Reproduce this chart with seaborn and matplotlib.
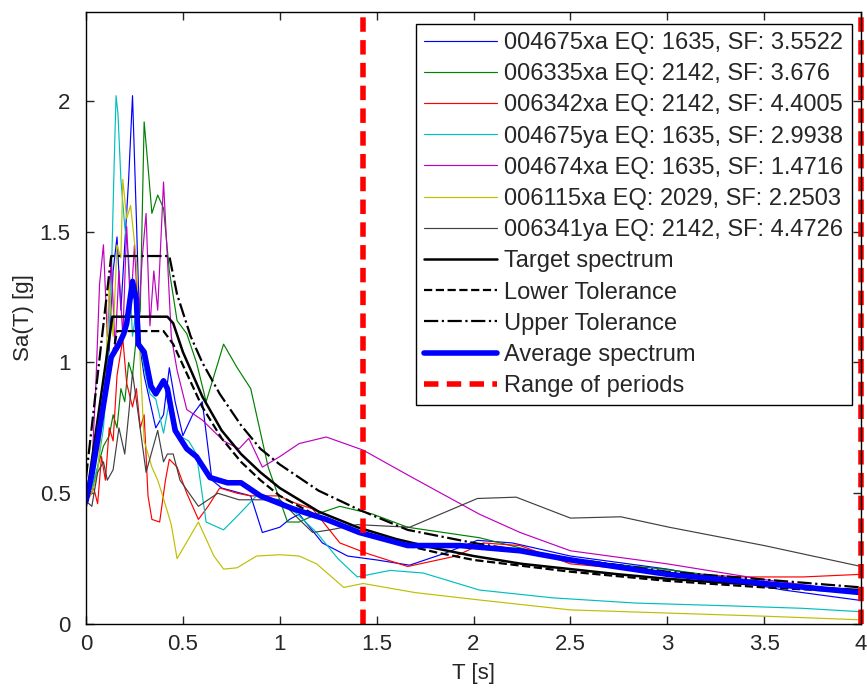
import matplotlib
matplotlib.use("Agg")
import matplotlib.pyplot as plt
import seaborn as sns

sns.set_style("ticks")
plt.rcParams['font.family'] = ['Liberation Sans', 'DejaVu Sans']
plt.rcParams['font.size'] = 16

# --- ground motion records (period T [s], spectral acceleration Sa [g]) ---
t_blue = [0, 0.03, 0.06, 0.08, 0.10, 0.12, 0.14, 0.16, 0.18, 0.20, 0.22, 0.24, 0.26, 0.28, 0.30, 0.33,
          0.36, 0.40, 0.43, 0.46, 0.50, 0.55, 0.60, 0.65, 0.70, 0.80, 0.85, 0.91, 1.0, 1.05, 1.1, 1.22,
          1.35, 1.5, 1.67, 1.85, 2.02, 2.2, 2.5, 2.8, 3.0, 3.3, 3.6, 4.0]
sa_blue = [0.47, 0.55, 0.68, 0.80, 0.95, 1.05, 1.35, 1.48, 1.20, 1.45, 1.70, 2.02, 1.55, 1.05, 0.95, 0.85,
           0.75, 0.80, 0.98, 0.85, 0.72, 0.80, 0.85, 0.55, 0.52, 0.50, 0.49, 0.35, 0.37, 0.40, 0.42, 0.31,
           0.26, 0.245, 0.225, 0.27, 0.32, 0.31, 0.26, 0.23, 0.21, 0.17, 0.13, 0.09]

t_green = [0, 0.03, 0.06, 0.09, 0.12, 0.14, 0.16, 0.18, 0.20, 0.22, 0.24, 0.26, 0.28, 0.30, 0.32, 0.34,
           0.37, 0.40, 0.43, 0.47, 0.52, 0.57, 0.62, 0.71, 0.78, 0.85, 0.94, 1.04, 1.1, 1.19, 1.31, 1.48,
           1.66, 2.03, 2.3, 2.5, 2.98, 3.5, 4.0]
sa_green = [0.47, 0.50, 0.60, 0.68, 0.72, 0.80, 0.75, 0.90, 0.85, 1.00, 0.95, 1.10, 1.20, 1.92, 1.75, 1.57,
            1.64, 1.59, 1.35, 1.16, 1.11, 1.00, 0.85, 1.07, 0.98, 0.90, 0.60, 0.39, 0.39, 0.42, 0.45, 0.42,
            0.37, 0.33, 0.28, 0.245, 0.21, 0.16, 0.12]

t_red = [0, 0.02, 0.04, 0.06, 0.08, 0.10, 0.12, 0.14, 0.16, 0.19, 0.21, 0.24, 0.26, 0.28, 0.30, 0.32,
         0.34, 0.38, 0.41, 0.43, 0.47, 0.52, 0.58, 0.63, 0.69, 0.78, 0.85, 1.0, 1.05, 1.17, 1.31, 1.45,
         1.66, 1.91, 2.05, 2.24, 2.5, 2.8, 3.1, 3.4, 3.7, 4.0]
sa_red = [0.47, 0.49, 0.52, 0.46, 0.64, 0.55, 0.75, 0.70, 0.95, 1.09, 0.92, 0.83, 0.90, 0.75, 0.80, 0.49,
          0.40, 0.39, 0.55, 0.63, 0.60, 0.50, 0.40, 0.45, 0.52, 0.50, 0.49, 0.49, 0.47, 0.44, 0.31, 0.27,
          0.22, 0.26, 0.31, 0.30, 0.23, 0.21, 0.19, 0.18, 0.18, 0.19]

t_cyan = [0, 0.03, 0.06, 0.09, 0.11, 0.13, 0.145, 0.155, 0.165, 0.18, 0.20, 0.22, 0.24, 0.26, 0.28, 0.30,
          0.33, 0.36, 0.40, 0.43, 0.48, 0.53, 0.57, 0.62, 0.71, 0.79, 0.88, 1.0, 1.09, 1.19, 1.30, 1.40,
          1.57, 1.74, 2.03, 2.41, 2.84, 3.3, 3.7, 4.0]
sa_cyan = [0.47, 0.52, 0.60, 0.75, 0.95, 1.30, 1.75, 2.02, 1.95, 1.70, 1.52, 1.40, 1.10, 1.20, 1.07, 0.98,
           0.88, 0.86, 0.73, 0.85, 0.72, 0.70, 0.65, 0.39, 0.36, 0.42, 0.49, 0.475, 0.42, 0.35, 0.25, 0.18,
           0.205, 0.195, 0.13, 0.10, 0.08, 0.07, 0.06, 0.047]

t_magenta = [0, 0.03, 0.05, 0.07, 0.09, 0.11, 0.13, 0.15, 0.17, 0.19, 0.21, 0.23, 0.25, 0.27, 0.29, 0.31,
             0.33, 0.35, 0.37, 0.40, 0.42, 0.44, 0.47, 0.52, 0.60, 0.71, 0.79, 0.84, 0.91, 1.0, 1.1, 1.24,
             1.43, 1.66, 2.03, 2.24, 2.5, 3.0, 3.5, 4.0]
sa_magenta = [0.47, 0.60, 0.90, 1.30, 1.45, 1.10, 1.40, 1.05, 1.35, 1.10, 1.52, 1.20, 1.45, 1.15, 1.40, 1.57,
              1.14, 1.35, 1.20, 1.69, 1.40, 1.10, 0.97, 0.82, 0.78, 0.70, 0.67, 0.71, 0.60, 0.64, 0.69, 0.715,
              0.665, 0.57, 0.42, 0.35, 0.28, 0.23, 0.17, 0.12]

t_yellow = [0, 0.03, 0.06, 0.08, 0.10, 0.12, 0.14, 0.16, 0.18, 0.19, 0.21, 0.23, 0.26, 0.28, 0.30, 0.34,
            0.37, 0.40, 0.44, 0.47, 0.58, 0.66, 0.71, 0.78, 0.88, 1.0, 1.10, 1.19, 1.33, 1.43, 1.7, 2.03,
            2.5, 3.0, 3.5, 4.0]
sa_yellow = [0.47, 0.50, 0.58, 0.75, 0.95, 1.30, 1.10, 1.45, 1.40, 1.70, 1.55, 1.60, 1.39, 1.00, 0.70, 0.60,
             0.55, 0.48, 0.38, 0.25, 0.39, 0.26, 0.21, 0.215, 0.26, 0.265, 0.26, 0.23, 0.14, 0.155, 0.12,
             0.092, 0.054, 0.042, 0.03, 0.016]

t_gray = [0, 0.03, 0.06, 0.09, 0.11, 0.14, 0.17, 0.20, 0.22, 0.24, 0.27, 0.31, 0.34, 0.37, 0.40, 0.42,
          0.45, 0.485, 0.58, 0.68, 0.79, 1.0, 1.1, 1.17, 1.26, 1.40, 1.67, 2.02, 2.22, 2.5, 2.76, 3.01,
          3.5, 4.0]
sa_gray = [0.47, 0.45, 0.58, 0.62, 0.55, 0.59, 0.75, 0.65, 0.80, 0.96, 0.80, 0.58, 0.66, 0.74, 0.62, 0.65,
           0.65, 0.55, 0.45, 0.50, 0.475, 0.475, 0.40, 0.35, 0.36, 0.38, 0.37, 0.48, 0.485, 0.405, 0.41,
           0.37, 0.30, 0.22]

# --- code spectrum, tolerances and mean ---
t_target = [0, 0.136, 0.42, 0.45, 0.5, 0.6, 0.7, 0.8, 0.9, 1.0, 1.2, 1.4, 1.6, 1.8, 2.0, 2.25, 2.5,
            2.75, 3.0, 3.25, 3.5, 3.75, 4.0]
sa_target = [0.47, 1.175, 1.175, 1.15, 1.04, 0.87, 0.74, 0.65, 0.58, 0.52, 0.43, 0.37, 0.325, 0.29,
             0.26, 0.23, 0.21, 0.19, 0.173, 0.16, 0.149, 0.139, 0.13]

t_lower = [0, 0.16, 0.40, 0.45, 0.5, 0.6, 0.7, 0.8, 0.9, 1.0, 1.2, 1.4, 1.6, 1.8, 2.0, 2.5, 3.0, 3.5, 4.0]
sa_lower = [0.45, 1.12, 1.12, 1.07, 0.99, 0.83, 0.71, 0.62, 0.55, 0.49, 0.41, 0.35, 0.31, 0.275, 0.245,
            0.20, 0.165, 0.14, 0.122]

t_upper = [0, 0.13, 0.43, 0.47, 0.54, 0.6, 0.69, 0.8, 0.9, 1.0, 1.2, 1.4, 1.66, 2.0, 2.5, 3.0, 3.5, 4.0]
sa_upper = [0.56, 1.407, 1.407, 1.26, 1.10, 1.0, 0.88, 0.76, 0.67, 0.61, 0.51, 0.44, 0.36, 0.31, 0.25,
            0.20, 0.17, 0.14]

t_avg = [0, 0.03, 0.057, 0.093, 0.13, 0.17, 0.195, 0.21, 0.24, 0.26, 0.27, 0.30, 0.335, 0.36, 0.40, 0.42,
         0.46, 0.52, 0.57, 0.64, 0.73, 0.80, 0.90, 1.07, 1.24, 1.41, 1.66, 1.93, 2.24, 2.5, 3.0, 3.5, 4.0]
sa_avg = [0.47, 0.57, 0.69, 0.85, 1.02, 1.07, 1.11, 1.15, 1.31, 1.24, 1.07, 1.04, 0.91, 0.88, 0.93, 0.90,
          0.74, 0.67, 0.64, 0.56, 0.54, 0.54, 0.49, 0.44, 0.40, 0.35, 0.30, 0.30, 0.28, 0.245, 0.19, 0.155,
          0.12]

period_range = [1.43, 4.0]

record_labels = ["004675xa EQ: 1635, SF: 3.5522", "006335xa EQ: 2142, SF: 3.676",
                 "006342xa EQ: 2142, SF: 4.4005", "004675ya EQ: 1635, SF: 2.9938",
                 "004674xa EQ: 1635, SF: 1.4716", "006115xa EQ: 2029, SF: 2.2503",
                 "006341ya EQ: 2142, SF: 4.4726"]
records = [(t_blue, sa_blue), (t_green, sa_green), (t_red, sa_red), (t_cyan, sa_cyan),
           (t_magenta, sa_magenta), (t_yellow, sa_yellow), (t_gray, sa_gray)]
# old MATLAB default colour order
record_colors = [(0, 0, 1), (0, 0.5, 0), (1, 0, 0), (0, 0.75, 0.75), (0.75, 0, 0.75),
                 (0.75, 0.75, 0), (0.25, 0.25, 0.25)]

xticks = [0, 0.5, 1, 1.5, 2, 2.5, 3, 3.5, 4]
xticklabels = ["0", "0.5", "1", "1.5", "2", "2.5", "3", "3.5", "4"]
yticks = [0, 0.5, 1, 1.5, 2]
yticklabels = ["0", "0.5", "1", "1.5", "2"]

fig = plt.figure(figsize=(8.67, 6.89), dpi=100)
ax = fig.add_axes([0.0992, 0.0943, 0.8940, 0.8883])

common = dict(ax=ax, estimator=None, errorbar=None, sort=False)
for (t, sa), c, lab in zip(records, record_colors, record_labels):
    sns.lineplot(x=t, y=sa, color=c, lw=0.85, label=lab, **common)

sns.lineplot(x=t_target, y=sa_target, color='black', lw=1.8, label='Target spectrum', **common)
sns.lineplot(x=t_lower, y=sa_lower, color='black', lw=1.6, linestyle='--', label='Lower Tolerance', **common)
sns.lineplot(x=t_upper, y=sa_upper, color='black', lw=1.6, linestyle='-.', label='Upper Tolerance', **common)
sns.lineplot(x=t_avg, y=sa_avg, color='blue', lw=4.0, label='Average spectrum', **common)

for i, tp in enumerate(period_range):
    ax.axvline(tp, color='red', lw=4.0, dashes=(2.6, 1.5), clip_on=False,
               label='Range of periods' if i == 0 else None)

ax.set_xlim(0, 4)
ax.set_ylim(0, 2.34)
ax.set_xticks(xticks)
ax.set_xticklabels(xticklabels)
ax.set_yticks(yticks)
ax.set_yticklabels(yticklabels)
ax.tick_params(direction='in', length=6, width=1, top=True, right=True, labelsize=16)
ax.tick_params(axis='x', pad=7)
ax.tick_params(axis='y', pad=11)
for s in ax.spines.values():
    s.set_visible(True)
    s.set_linewidth(1.0)
    s.set_color('black')

ax.set_xlabel('T [s]', fontsize=16, labelpad=6)
ax.set_ylabel('Sa(T) [g]', fontsize=16, labelpad=4)

leg = ax.legend(loc='upper right', bbox_to_anchor=(0.988, 0.981), borderaxespad=0,
                fontsize=17, handlelength=3.1, handletextpad=0.3, labelspacing=0.39,
                borderpad=0.35, fancybox=False, framealpha=1, edgecolor='black')
leg.get_frame().set_linewidth(1.0)

fig.savefig('out.png', dpi=100)
